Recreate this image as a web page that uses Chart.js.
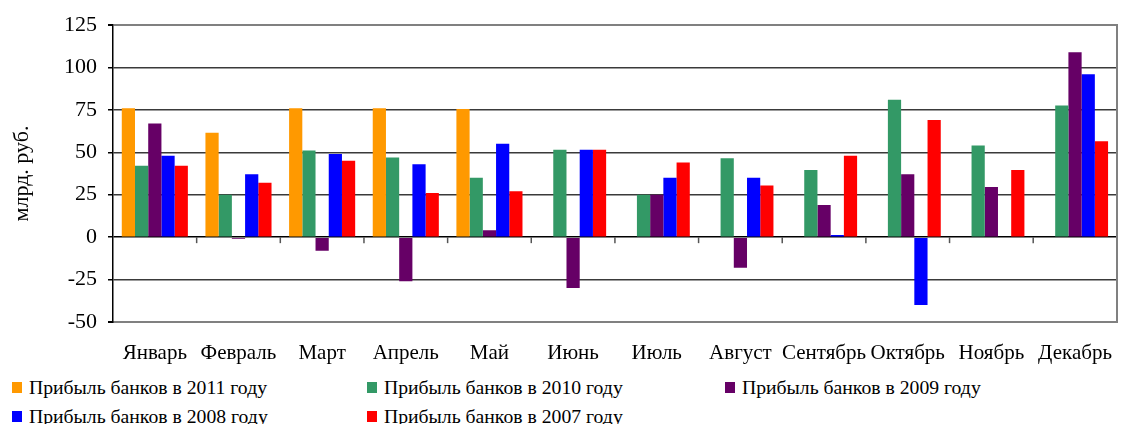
<!DOCTYPE html>
<html lang="ru">
  <head>
    <meta charset="UTF-8" />
    <script src="https://cdn.jsdelivr.net/npm/chart.js@4.4.0/dist/chart.umd.min.js"></script>
    <title>Прибыль банков</title>
    <style>
      body { margin: 0; background: #fff; font-family: "Liberation Serif", "Times New Roman", serif; }
      #wrap { position: relative; width: 1123px; height: 424px; }
      .item { position: absolute; display: flex; align-items: center; font-size: 19.7px; color: #000; white-space: nowrap; }
      .box { width: 10px; height: 11px; margin-right: 7px; }
    </style>
  </head>
  <body>
    <div id="wrap">
      <canvas id="myChart" width="1123" height="370"></canvas>
      <div id="legend"></div>
    </div>
    <script>
      const months = ["Январь", "Февраль", "Март", "Апрель", "Май", "Июнь", "Июль", "Август", "Сентябрь", "Октябрь", "Ноябрь", "Декабрь"];
      const yTicks = [-50, -25, 0, 25, 50, 75, 100, 125];
      const p2011 = [76, 61.5, 76, 76, 75.5, null, null, null, null, null, null, null];
      const p2010 = [42, 25, 51, 47, 35, 51.5, 25, 46.5, 39.5, 81, 54, 77.5];
      const p2009 = [67, -1, -8, -26, 4, -30, 25, -18, 19, 37, 29.5, 109];
      const p2008 = [48, 37, 49, 43, 55, 51.5, 35, 35, 1.2, -40, null, 96];
      const p2007 = [42, 32, 45, 26, 27, 51.5, 44, 30.5, 48, 69, 39.5, 56.5];

      const serif = "'Liberation Serif', 'Times New Roman', serif";

      // small marks on the zero line between months
      const zeroTicks = {
        id: "zeroTicks",
        afterDatasetsDraw(chart) {
          const x = chart.scales.x;
          const y0 = chart.scales.y.getPixelForValue(0);
          const ctx = chart.ctx;
          ctx.save();
          ctx.strokeStyle = "#555";
          ctx.lineWidth = 1.5;
          for (let i = 0; i < months.length - 1; i++) {
            const px = (x.getPixelForTick(i) + x.getPixelForTick(i + 1)) / 2;
            ctx.beginPath();
            ctx.moveTo(px, y0);
            ctx.lineTo(px, y0 + 6);
            ctx.stroke();
          }
          ctx.restore();
        },
      };

      const ctx = document.getElementById("myChart").getContext("2d");
      const myChart = new Chart(ctx, {
        type: "bar",
        data: {
          labels: months,
          datasets: [
            { label: "Прибыль банков в 2011 году", data: p2011, backgroundColor: "#FF9900" },
            { label: "Прибыль банков в 2010 году", data: p2010, backgroundColor: "#339966" },
            { label: "Прибыль банков в 2009 году", data: p2009, backgroundColor: "#660066" },
            { label: "Прибыль банков в 2008 году", data: p2008, backgroundColor: "#0000FF" },
            { label: "Прибыль банков в 2007 году", data: p2007, backgroundColor: "#FF0000" },
          ],
        },
        options: {
          responsive: false,
          animation: false,
          devicePixelRatio: 1,
          categoryPercentage: 0.79,
          barPercentage: 1.0,
          layout: { padding: { top: 25, left: 0, right: 0, bottom: 0 } },
          plugins: { legend: { display: false }, tooltip: { enabled: false } },
          scales: {
            x: {
              grid: { display: false },
              border: { display: true, color: "#808080", width: 2 },
              ticks: { color: "#000", font: { family: serif, size: 21 }, padding: 11, autoSkip: false, maxRotation: 0 },
              afterFit(scale) { scale.height = 48; },
            },
            y: {
              min: -50,
              max: 125,
              afterBuildTicks(scale) { scale.ticks = yTicks.map((v) => ({ value: v })); },
              ticks: { color: "#000", font: { family: serif, size: 22 }, padding: 11 },
              grid: {
                color: (c) => (c.tick.value === 125 || c.tick.value === -50 ? "#808080" : c.tick.value === 0 ? "#000" : "#3a3a3a"),
                lineWidth: (c) => (c.tick.value === 125 || c.tick.value === -50 ? 2 : 1.5),
                tickColor: "#000",
                tickLength: 5,
              },
              border: { display: true, color: "#000", width: 1.5 },
              title: { display: true, text: "млрд. руб.", color: "#000", font: { family: serif, size: 22 }, padding: { top: 9, bottom: 0 } },
              afterFit(scale) { scale.width = 113; },
            },
            y2: {
              position: "right",
              min: -50,
              max: 125,
              ticks: { display: false },
              grid: { display: false },
              border: { display: true, color: "#808080", width: 2 },
              afterFit(scale) { scale.width = 1; },
            },
          },
        },
        plugins: [zeroTicks],
      });

      // legend laid out in three columns, as in the picture
      const legendCols = [12, 367, 725];
      const legendRows = [387, 416];
      const legend = document.getElementById("legend");
      myChart.data.datasets.forEach((ds, i) => {
        const item = document.createElement("div");
        item.className = "item";
        item.style.left = legendCols[i % 3] + "px";
        item.style.top = legendRows[Math.floor(i / 3)] - 12 + "px";
        item.style.height = "24px";
        const box = document.createElement("span");
        box.className = "box";
        box.style.background = ds.backgroundColor;
        const text = document.createElement("span");
        text.textContent = ds.label;
        item.appendChild(box);
        item.appendChild(text);
        legend.appendChild(item);
      });
    </script>
  </body>
</html>
